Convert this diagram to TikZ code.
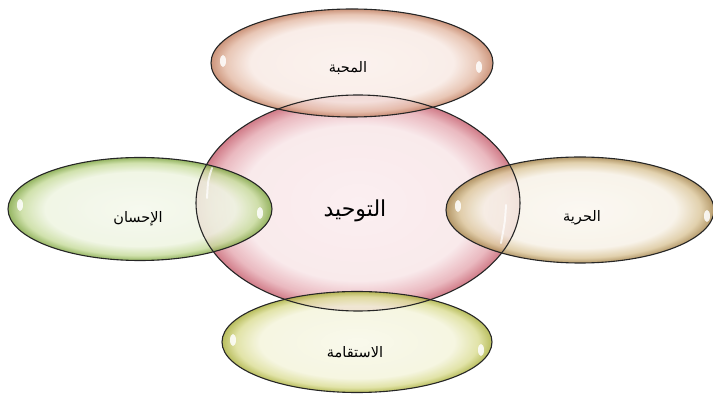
\documentclass[tikz,border=0pt]{standalone}
\usepackage{fontspec}
\newfontfamily\arabicfont[Script=Arabic]{DejaVu Sans}
\TeXXeTstate=1
\pgfdeclareradialshading{shC}{\pgfpoint{0bp}{0bp}}{color(0bp)=(rgb,255:red,250;green,236;blue,238); color(18bp)=(rgb,255:red,248;green,230;blue,232); color(22.5bp)=(rgb,255:red,230;green,172;blue,180); color(25bp)=(rgb,255:red,200;green,100;blue,115); color(50bp)=(rgb,255:red,200;green,100;blue,115)}
\pgfdeclareradialshading{shT}{\pgfpoint{0bp}{0bp}}{color(0bp)=(rgb,255:red,250;green,240;blue,236); color(18bp)=(rgb,255:red,248;green,234;blue,228); color(22.5bp)=(rgb,255:red,228;green,188;blue,168); color(25bp)=(rgb,255:red,195;green,130;blue,100); color(50bp)=(rgb,255:red,195;green,130;blue,100)}
\pgfdeclareradialshading{shL}{\pgfpoint{0bp}{0bp}}{color(0bp)=(rgb,255:red,244;green,248;blue,236); color(18bp)=(rgb,255:red,238;green,244;blue,225); color(22.5bp)=(rgb,255:red,200;green,220;blue,158); color(25bp)=(rgb,255:red,130;green,168;blue,70); color(50bp)=(rgb,255:red,130;green,168;blue,70)}
\pgfdeclareradialshading{shR}{\pgfpoint{0bp}{0bp}}{color(0bp)=(rgb,255:red,250;green,247;blue,240); color(18bp)=(rgb,255:red,247;green,241;blue,230); color(22.5bp)=(rgb,255:red,220;green,200;blue,158); color(25bp)=(rgb,255:red,168;green,136;blue,80); color(50bp)=(rgb,255:red,168;green,136;blue,80)}
\pgfdeclareradialshading{shB}{\pgfpoint{0bp}{0bp}}{color(0bp)=(rgb,255:red,248;green,248;blue,232); color(18bp)=(rgb,255:red,244;green,244;blue,220); color(22.5bp)=(rgb,255:red,220;green,222;blue,152); color(25bp)=(rgb,255:red,172;green,178;blue,65); color(50bp)=(rgb,255:red,172;green,178;blue,65)}
\tikzset{
  blob/.style={fill opacity=0.85},
  rim/.style={draw=black!85, line width=1.1pt},
  shine/.style={fill=white, fill opacity=0.85},
  streak/.style={draw=white, draw opacity=0.75, line width=2pt, line cap=round},
  lbl/.style={font=\arabicfont\fontsize{14.5}{17}\selectfont, text=black, inner sep=0pt},
  biglbl/.style={font=\arabicfont\fontsize{22}{26}\selectfont, text=black, inner sep=0pt}
}
\begin{document}
\begin{tikzpicture}[x=1pt,y=-1pt]
\useasboundingbox (0,0) rectangle (713,395);
% fills
\shade[shading=shC, blob] (358,203) ellipse [x radius=162, y radius=108];
\shade[shading=shT, blob] (352,63) ellipse [x radius=141, y radius=54];
\shade[shading=shL, blob] (140,209) ellipse [x radius=132, y radius=51.5];
\shade[shading=shR, blob] (580,210) ellipse [x radius=134, y radius=53];
\shade[shading=shB, blob] (357,342) ellipse [x radius=135, y radius=50.5];
% highlights
\fill[shine] (223,61) ellipse [x radius=3, y radius=6];
\fill[shine] (479,67) ellipse [x radius=3, y radius=6];
\fill[shine] (20,205) ellipse [x radius=3, y radius=6];
\fill[shine] (260,213) ellipse [x radius=3, y radius=6];
\fill[shine] (458,206) ellipse [x radius=3, y radius=6];
\fill[shine] (707,216) ellipse [x radius=3, y radius=6];
\fill[shine] (233,340) ellipse [x radius=3, y radius=6];
\fill[shine] (481,350) ellipse [x radius=3, y radius=6];
\draw[streak] (212,168) .. controls (208,180) .. (207,198);
\draw[streak] (506,205) .. controls (505,222) .. (501,243);
% outlines
\draw[rim] (358,203) ellipse [x radius=162, y radius=108];
\draw[rim] (352,63) ellipse [x radius=141, y radius=54];
\draw[rim] (140,209) ellipse [x radius=132, y radius=51.5];
\draw[rim] (580,210) ellipse [x radius=134, y radius=53];
\draw[rim] (357,342) ellipse [x radius=135, y radius=50.5];
% labels
\node[biglbl] (tawhid) at (355,211) {\beginR التوحيد\endR};
\node[lbl] (mahabba) at (348,68) {\beginR المحبة\endR};
\node[lbl] (ihsan) at (138,219) {\beginR الإحسان\endR};
\node[lbl] (hurriya) at (582,218) {\beginR الحرية\endR};
\node[lbl] (istiqama) at (355,352) {\beginR الاستقامة\endR};
\end{tikzpicture}
\end{document}
